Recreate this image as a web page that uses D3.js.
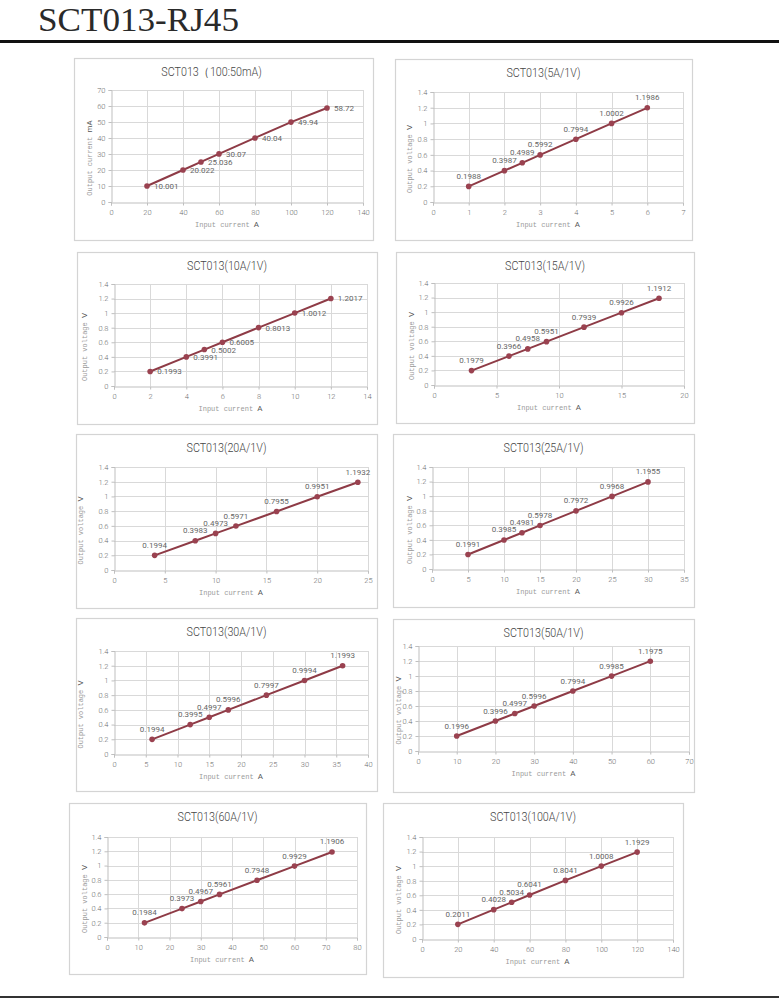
<!DOCTYPE html>
<html>
<head>
<meta charset="utf-8">
<script src="https://cdn.jsdelivr.net/npm/d3@7/dist/d3.min.js"></script>
<style>
  body { margin: 0; background: #fff; }
  text { font-family: Roboto, "Liberation Sans", sans-serif; }
  .mono { font-family: "Liberation Mono", "DejaVu Sans Mono", monospace; }
  .head { font-family: "Liberation Serif", "DejaVu Serif", serif; }
</style>
</head>
<body>
<svg id="page" width="779" height="1000"></svg>
<script>
// chart data, one entry per small chart
var chartTitles = [
  "SCT013（100:50mA)", "SCT013(5A/1V)", "SCT013(10A/1V)", "SCT013(15A/1V)",
  "SCT013(20A/1V)", "SCT013(25A/1V)", "SCT013(30A/1V)", "SCT013(50A/1V)",
  "SCT013(60A/1V)", "SCT013(100A/1V)"
];
var inputCurrent = [
  [20, 40, 50, 60, 80, 100, 120],
  [1, 2, 2.5, 3, 4, 5, 6],
  [2, 4, 5, 6, 8, 10, 12],
  [3, 6, 7.5, 9, 12, 15, 18],
  [4, 8, 10, 12, 16, 20, 24],
  [5, 10, 12.5, 15, 20, 25, 30],
  [6, 12, 15, 18, 24, 30, 36],
  [10, 20, 25, 30, 40, 50, 60],
  [12, 24, 30, 36, 48, 60, 72],
  [20, 40, 50, 60, 80, 100, 120]
];
var outputValue = [
  [10.001, 20.022, 25.036, 30.07, 40.04, 49.94, 58.72],
  [0.1988, 0.3987, 0.4989, 0.5992, 0.7994, 1.0002, 1.1986],
  [0.1993, 0.3991, 0.5002, 0.6005, 0.8013, 1.0012, 1.2017],
  [0.1979, 0.3966, 0.4958, 0.5951, 0.7939, 0.9926, 1.1912],
  [0.1994, 0.3983, 0.4973, 0.5971, 0.7955, 0.9951, 1.1932],
  [0.1991, 0.3985, 0.4981, 0.5978, 0.7972, 0.9968, 1.1955],
  [0.1994, 0.3995, 0.4997, 0.5996, 0.7997, 0.9994, 1.1993],
  [0.1996, 0.3996, 0.4997, 0.5996, 0.7994, 0.9985, 1.1975],
  [0.1984, 0.3973, 0.4967, 0.5961, 0.7948, 0.9929, 1.1906],
  [0.2011, 0.4028, 0.5034, 0.6041, 0.8041, 1.0008, 1.1929]
];
// labels as printed on the sheet (keeps trailing digits like 1.0002)
var labelText = [
  ["10.001", "20.022", "25.036", "30.07", "40.04", "49.94", "58.72"],
  ["0.1988", "0.3987", "0.4989", "0.5992", "0.7994", "1.0002", "1.1986"],
  ["0.1993", "0.3991", "0.5002", "0.6005", "0.8013", "1.0012", "1.2017"],
  ["0.1979", "0.3966", "0.4958", "0.5951", "0.7939", "0.9926", "1.1912"],
  ["0.1994", "0.3983", "0.4973", "0.5971", "0.7955", "0.9951", "1.1932"],
  ["0.1991", "0.3985", "0.4981", "0.5978", "0.7972", "0.9968", "1.1955"],
  ["0.1994", "0.3995", "0.4997", "0.5996", "0.7997", "0.9994", "1.1993"],
  ["0.1996", "0.3996", "0.4997", "0.5996", "0.7994", "0.9985", "1.1975"],
  ["0.1984", "0.3973", "0.4967", "0.5961", "0.7948", "0.9929", "1.1906"],
  ["0.2011", "0.4028", "0.5034", "0.6041", "0.8041", "1.0008", "1.1929"]
];
var yTitles = ["Output current", "Output voltage", "Output voltage", "Output voltage", "Output voltage",
               "Output voltage", "Output voltage", "Output voltage", "Output voltage", "Output voltage"];
var yUnits = ["mA", "V", "V", "V", "V", "V", "V", "V", "V", "V"];
var xTitle = "Input current";
var xUnit = "A";
var xMax = [140, 7, 14, 20, 25, 35, 40, 70, 80, 140];
var xStep = [20, 1, 2, 5, 5, 5, 5, 10, 10, 20];
var yMax = [70, 1.4, 1.4, 1.4, 1.4, 1.4, 1.4, 1.4, 1.4, 1.4];
var yStep = [10, 0.2, 0.2, 0.2, 0.2, 0.2, 0.2, 0.2, 0.2, 0.2];

// where each chart sits on the page: panel box, plot box, y title x, label side
var layout = [
  {panel: [74, 58, 373, 240],  plot: [111, 363, 90, 202],  yt: 90,  side: "right", tdx: -12},
  {panel: [395, 59, 692, 240], plot: [433, 683, 92, 202],  yt: 410, side: "top",   tdx: 0},
  {panel: [77, 252, 377, 424], plot: [114, 367, 284, 386], yt: 85,  side: "right", tdx: 0},
  {panel: [396, 252, 694, 423],plot: [434, 684, 283, 385], yt: 412, side: "top",   tdx: 0},
  {panel: [76, 434, 377, 608], plot: [114, 368, 467, 570], yt: 81,  side: "top",   tdx: 0},
  {panel: [393, 434, 694, 607],plot: [432, 684, 467, 569], yt: 410, side: "top",   tdx: 0},
  {panel: [76, 618, 377, 791], plot: [114, 368, 651, 754], yt: 81,  side: "top",   tdx: 0},
  {panel: [393, 619, 694, 792],plot: [418, 689, 646, 751], yt: 399, side: "top",   tdx: 0},
  {panel: [69, 803, 366, 974], plot: [107, 357, 837, 937], yt: 85,  side: "top",   tdx: 0},
  {panel: [383, 803, 683, 977],plot: [422, 673, 837, 939], yt: 399, side: "top",   tdx: 0}
];

var lineColor = "#8e3b46";
var dotColor = "#9a4250";
var gridColor = "#d9d9d9";
var axisColor = "#bfbfbf";

var svg = d3.select("#page");

// page header
svg.append("text")
  .attr("class", "head")
  .attr("x", 38).attr("y", 30.5)
  .attr("textLength", 201).attr("lengthAdjust", "spacingAndGlyphs")
  .attr("font-size", 34).attr("fill", "#2a2a2a")
  .text("SCT013-RJ45");
svg.append("rect").attr("x", 0).attr("y", 40).attr("width", 779).attr("height", 3).attr("fill", "#111");
svg.append("rect").attr("x", 0).attr("y", 996).attr("width", 779).attr("height", 2).attr("fill", "#333");

function steps(max, step){
  var n = Math.round(max / step);
  return d3.range(n + 1).map(function(k){ return +(k * step).toFixed(2); });
}

layout.forEach(function(L, i){
  var g = svg.append("g");
  var p = L.panel, b = L.plot;

  g.append("rect")
    .attr("x", p[0] + 0.5).attr("y", p[1] + 0.5)
    .attr("width", p[2] - p[0]).attr("height", p[3] - p[1])
    .attr("fill", "#fff").attr("stroke", "#d4d4d4").attr("stroke-width", 1.2);

  var x = d3.scaleLinear().domain([0, xMax[i]]).range([b[0], b[1]]);
  var y = d3.scaleLinear().domain([0, yMax[i]]).range([b[3], b[2]]);
  var xt = steps(xMax[i], xStep[i]);
  var yt = steps(yMax[i], yStep[i]);

  // gridlines
  g.selectAll(".vg").data(xt.slice(1)).enter().append("line")
    .attr("x1", function(d){ return Math.round(x(d)) + 0.5; })
    .attr("x2", function(d){ return Math.round(x(d)) + 0.5; })
    .attr("y1", b[2]).attr("y2", b[3])
    .attr("stroke", gridColor);
  g.selectAll(".hg").data(yt.slice(1)).enter().append("line")
    .attr("y1", function(d){ return Math.round(y(d)) + 0.5; })
    .attr("y2", function(d){ return Math.round(y(d)) + 0.5; })
    .attr("x1", b[0]).attr("x2", b[1])
    .attr("stroke", gridColor);

  // axes
  var fmt = function(d){ return String(d); };
  var xa = g.append("g").attr("transform", "translate(0," + (b[3] + 0.5) + ")")
    .call(d3.axisBottom(x).tickValues(xt).tickSize(3).tickPadding(4).tickFormat(fmt));
  var ya = g.append("g").attr("transform", "translate(" + (b[0] + 0.5) + ",0)")
    .call(d3.axisLeft(y).tickValues(yt).tickSize(3).tickPadding(3).tickFormat(fmt));
  [xa, ya].forEach(function(a){
    a.select(".domain").attr("stroke", axisColor);
    a.selectAll(".tick line").attr("stroke", axisColor);
    a.selectAll(".tick text").attr("fill", "#6e6e6e").attr("font-size", 7.5).attr("font-weight", 300);
  });

  // chart title, squeezed a little to match the narrow original face
  g.append("text")
    .attr("transform", "translate(" + ((p[0] + p[2]) / 2 + L.tdx) + "," + (p[1] + 18) + ") scale(0.86,1)")
    .attr("text-anchor", "middle").attr("font-size", 12.5).attr("font-weight", 300)
    .attr("fill", "#454545")
    .text(chartTitles[i]);

  var xtl = g.append("text")
    .attr("x", (b[0] + b[1]) / 2 - 10).attr("y", b[3] + 25)
    .attr("text-anchor", "middle").attr("font-size", 7);
  xtl.append("tspan").attr("class", "mono").attr("fill", "#9a9a9a").text(xTitle + "  ");
  xtl.append("tspan").attr("fill", "#555").attr("font-size", 8).text(xUnit);

  var ytl = g.append("text")
    .attr("transform", "translate(" + L.yt + "," + ((b[2] + b[3]) / 2 + 12) + ") rotate(-90)")
    .attr("text-anchor", "middle").attr("font-size", 7).attr("dy", "0.35em");
  ytl.append("tspan").attr("class", "mono").attr("fill", "#9a9a9a").text(yTitles[i] + "  ");
  ytl.append("tspan").attr("fill", "#555").attr("font-size", 8).text(yUnits[i]);

  // series
  var pts = inputCurrent[i].map(function(v, k){ return [v, outputValue[i][k], labelText[i][k]]; });
  g.append("path").datum(pts)
    .attr("d", d3.line().x(function(d){ return x(d[0]); }).y(function(d){ return y(d[1]); }))
    .attr("fill", "none").attr("stroke", lineColor).attr("stroke-width", 2);
  g.selectAll(".dot").data(pts).enter().append("circle")
    .attr("cx", function(d){ return x(d[0]); })
    .attr("cy", function(d){ return y(d[1]); })
    .attr("r", 2.8).attr("fill", dotColor);

  g.selectAll(".lbl").data(pts).enter().append("text")
    .attr("x", function(d){ return x(d[0]) + (L.side == "right" ? 7 : 0); })
    .attr("y", function(d){ return y(d[1]) + (L.side == "right" ? 3 : -7.5); })
    .attr("text-anchor", L.side == "right" ? "start" : "middle")
    .attr("font-size", 8).attr("fill", "#666")
    .text(function(d){ return d[2]; });
});
</script>
</body>
</html>
